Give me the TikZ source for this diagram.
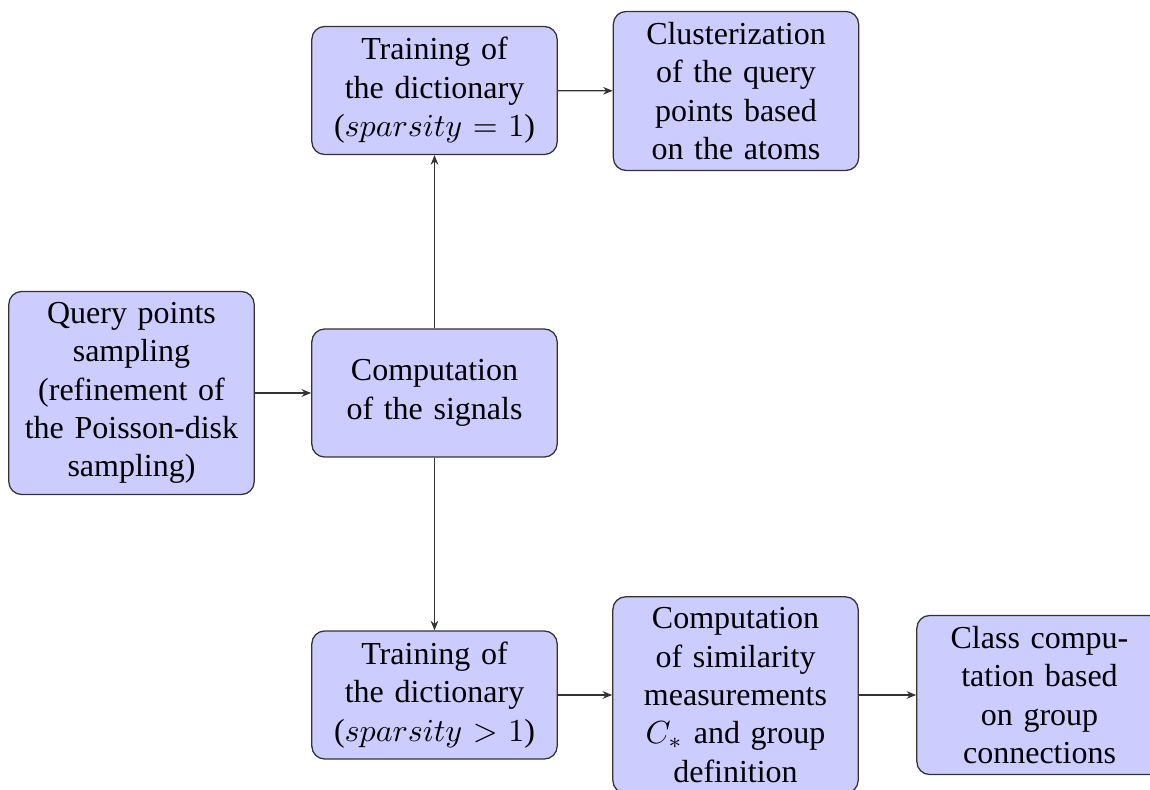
\documentclass[tikz,border=0pt]{standalone}
\usepackage{fontspec}
\setmainfont{Liberation Serif}
\usetikzlibrary{arrows.meta}
\begin{document}
\begin{tikzpicture}[x=0.3125pt,y=-0.3125pt,
  block/.style={rectangle, draw=black!80, fill=blue!20, rounded corners,
    text width=7em, align=center, minimum height=4em, font=\fontsize{10pt}{12pt}\selectfont},
  link/.style={draw=black!80, line width=0.4pt, -{Stealth[length=3pt,width=2.4pt]}}]
\useasboundingbox (0,0) rectangle (1150,790);
\node[block] (query) at (131.5,393) {Query points\\sampling\\(refinement of\\the Poisson-disk\\sampling)};
\node[block] (signals) at (434.5,393) {Computation\\of the signals};
\node[block] (traintop) at (434.5,90.5) {Training of\\the dictionary\\($sparsity=1$)};
\node[block] (cluster) at (736,91) {Clusterization\\of the query\\points based\\on the atoms};
\node[block] (trainbot) at (434.5,695) {Training of\\the dictionary\\($sparsity>1$)};
\node[block] (simil) at (735.5,695) {Computation\\of similarity\\measurements\\$C_*$ and group\\definition};
\node[block] (class) at (1039.5,695) {Class compu-\\tation based\\on group\\connections};
\draw[link] (query) -- (signals);
\draw[link] (signals) -- (traintop);
\draw[link] (traintop) -- (cluster);
\draw[link] (signals) -- (trainbot);
\draw[link] (trainbot) -- (simil);
\draw[link] (simil) -- (class);
\end{tikzpicture}
\end{document}
